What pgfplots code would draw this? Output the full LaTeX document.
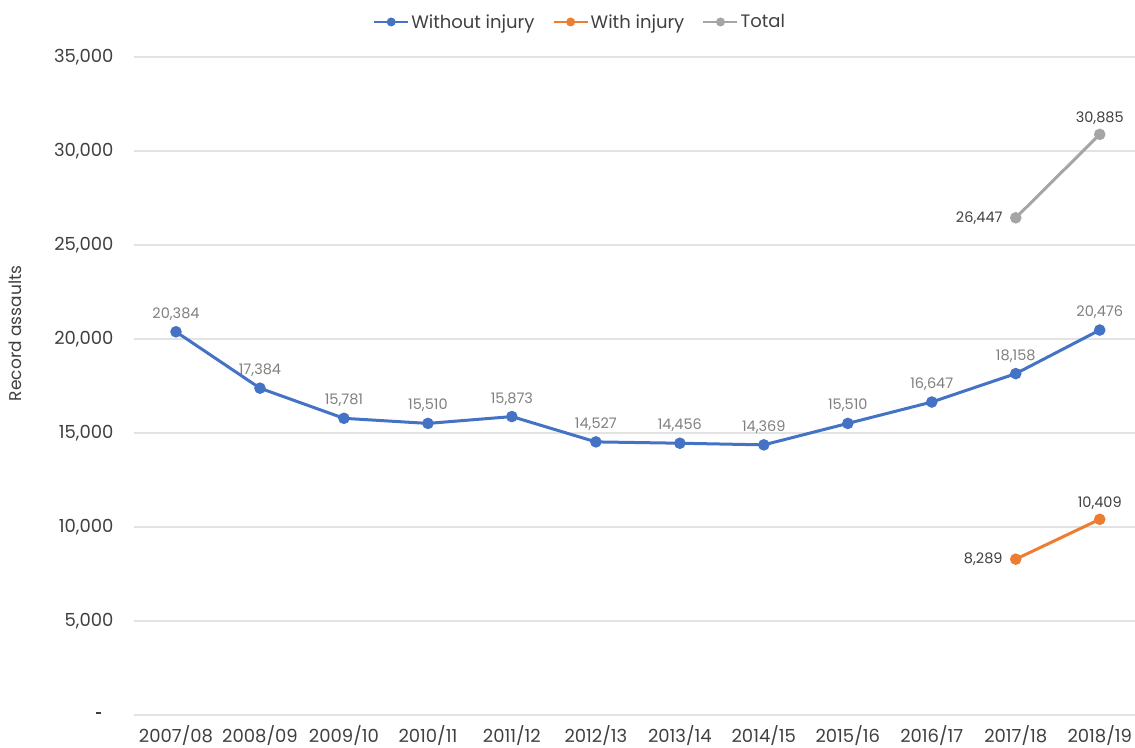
\documentclass[border=0pt]{standalone}
\usepackage{pgfplots}
\usepackage{pgfplotstable}
\pgfplotsset{compat=1.18}
\usepackage{fontspec}
\setmainfont{Poppins}
\definecolor{cblue}{HTML}{4472C4}
\definecolor{corange}{HTML}{ED7D31}
\definecolor{cgray}{HTML}{A5A5A5}
\definecolor{ctext}{HTML}{404040}
\definecolor{clab}{HTML}{7F7F7F}
\definecolor{cgrid}{HTML}{E3E3E3}

\pgfplotstableread{
x y lab
0 20384 20,384
1 17384 17,384
2 15781 15,781
3 15510 15,510
4 15873 15,873
5 14527 14,527
6 14456 14,456
7 14369 14,369
8 15510 15,510
9 16647 16,647
10 18158 18,158
11 20476 20,476
}\without

\pgfplotstableread{
x y lab
10 8289 8,289
11 10409 10,409
}\withinj

\pgfplotstableread{
x y lab
10 26447 26,447
11 30885 30,885
}\total

\begin{document}
\begin{tikzpicture}
\useasboundingbox (-134pt,-32pt) rectangle (1001pt,715pt);
\begin{axis}[
  at={(0pt,0pt)}, anchor=south west,
  scale only axis, width=1001pt, height=658pt,
  xmin=-0.5, xmax=11.42, ymin=0, ymax=35000,
  scaled y ticks=false,
  axis line style={draw=none}, major tick length=0pt,
  ymajorgrids, grid style={cgrid, line width=1.2pt},
  xtick={0,...,11},
  xticklabels={2007/08,2008/09,2009/10,2010/11,2011/12,2012/13,2013/14,2014/15,2015/16,2016/17,2017/18,2018/19},
  ytick={0,5000,10000,15000,20000,25000,30000,35000},
  yticklabels={{\rule[4pt]{5.5pt}{1.6pt}\kern12pt},{5,000},{10,000},{15,000},{20,000},{25,000},{30,000},{35,000}},
  tick label style={font=\fontsize{18}{20}\selectfont, text=ctext},
  xticklabel style={yshift=-7pt},
  yticklabel style={xshift=-17pt},
  ylabel={Record assaults},
  every axis y label/.style={at={(axis description cs:-0.1189,0.58)}, rotate=90, anchor=center, font=\fontsize{17}{20}\selectfont, text=ctext},
  legend style={at={(0.4456,1.0532)}, anchor=center, draw=none, fill=none,
    legend columns=-1, font=\fontsize{18}{20}\selectfont, text=ctext,
    /tikz/every even column/.append style={column sep=16pt}},
  legend image code/.code={\draw[#1, line width=2.2pt, mark size=3.3pt, mark repeat=2, mark phase=2] plot coordinates {(0pt,0pt) (17pt,0pt) (34pt,0pt)};},
  labsouth/.style={point meta=explicit symbolic, nodes near coords,
    every node near coord/.append style={anchor=south, yshift=7pt, font=\fontsize{14.5}{16}\selectfont, inner sep=3pt}},
  labeast/.style={point meta=explicit symbolic, nodes near coords,
    every node near coord/.append style={anchor=east, xshift=-10pt, font=\fontsize{14.5}{16}\selectfont, inner sep=3pt}},
]
\addplot[cblue, line width=3pt, mark=*, mark size=4.2pt, labsouth, every node near coord/.append style={text=clab}] table[x=x,y=y,meta=lab] {\without};
\addlegendentry{Without injury}
\addplot[corange, line width=3pt, mark=*, mark size=4.2pt] table[x=x,y=y] {\withinj};
\addlegendentry{With injury}
\addplot[cgray, line width=3pt, mark=*, mark size=4.2pt] table[x=x,y=y] {\total};
\addlegendentry{Total}
% labels
\addplot[forget plot, draw=none, mark=none, labeast, every node near coord/.append style={text=ctext}] table[x=x,y=y,meta=lab, skip coords between index={1}{2}] {\withinj};
\addplot[forget plot, draw=none, mark=none, labsouth, every node near coord/.append style={text=ctext}] table[x=x,y=y,meta=lab, skip coords between index={0}{1}] {\withinj};
\addplot[forget plot, draw=none, mark=none, labeast, every node near coord/.append style={text=ctext}] table[x=x,y=y,meta=lab, skip coords between index={1}{2}] {\total};
\addplot[forget plot, draw=none, mark=none, labsouth, every node near coord/.append style={text=ctext}] table[x=x,y=y,meta=lab, skip coords between index={0}{1}] {\total};
\end{axis}
\end{tikzpicture}
\end{document}
